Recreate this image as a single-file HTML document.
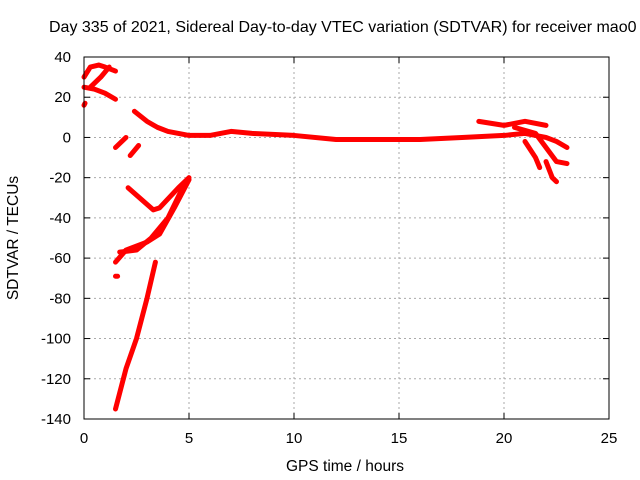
<!DOCTYPE html>
<html><head><meta charset="utf-8">
<style>
body{margin:0;background:#fff;}
svg{display:block;font-family:"Liberation Sans",sans-serif;}
</style></head>
<body>
<svg id="chart" width="640" height="480">
<text x="49" y="32" font-size="16" text-anchor="start">Day 335 of 2021, Sidereal Day-to-day VTEC variation (SDTVAR) for receiver mao0</text>
<text x="345" y="471" font-size="15.5" text-anchor="middle">GPS time / hours</text>
<text x="18" y="238" font-size="15.5" text-anchor="middle" transform="rotate(-90 18 238)">SDTVAR / TECUs</text>
<g id="grid"></g><g id="axes"></g><g id="marks"></g>
<rect x="84" y="57" width="525" height="362" fill="none" stroke="#000" stroke-width="1"/>
</svg>
<script>
const xTicks=[0,5,10,15,20,25];
const yTicks=[40,20,0,-20,-40,-60,-80,-100,-120,-140];
const s1x=[0,0.3,0.7,1.0,1.5], s1y=[30,35,36,35,33];
const s2x=[0,0.5,1,1.5], s2y=[25,24,22,19];
const s3x=[0.3,0.8,1.2], s3y=[25,30,35];
const s4x=[2.4,3,3.5,4,5,6,7,8,10,12,14,15,16,18,20,21,22,22.5,23], s4y=[13,8,5,3,1,1,3,2,1,-1,-1,-1,-1,0,1,2,0,-2,-5];
const s5x=[18.8,20,21,22], s5y=[8,6,8,6];
const s6x=[20.5,21.5,22,22.5,23], s6y=[5,2,-5,-12,-13];
const s7x=[21,21.5,21.7], s7y=[-2,-10,-15];
const s8x=[22,22.3,22.5], s8y=[-12,-20,-22];
const s9x=[1.5,2], s9y=[-5,0];
const s10x=[2.2,2.6], s10y=[-9,-4];
const s11x=[2.1,3.3,3.6,4.5,5], s11y=[-25,-36,-35,-25,-20];
const s12x=[1.5,2,3,3.6,4.3,5], s12y=[-62,-56,-52,-48,-35,-21];
const s13x=[1.7,2.5,3.2,4,4.7], s13y=[-57,-56,-50,-40,-25];
const s14x=[1.5,2,2.5,3,3.4], s14y=[-135,-115,-100,-80,-62];
const s15x=[1.5,1.6], s15y=[-69,-69];
const s16x=[0,0.05], s16y=[16,17];
const seriesX=[s1x,s2x,s3x,s4x,s5x,s6x,s7x,s8x,s9x,s10x,s11x,s12x,s13x,s14x,s15x,s16x];
const seriesY=[s1y,s2y,s3y,s4y,s5y,s6y,s7y,s8y,s9y,s10y,s11y,s12y,s13y,s14y,s15y,s16y];
const X=v=>84+(v-0)/25*525;
const Y=v=>57+(40-v)/180*362;
const NS="http://www.w3.org/2000/svg";
const grid=document.getElementById('grid'),axes=document.getElementById('axes'),marks=document.getElementById('marks');
function mk(t,a){const e=document.createElementNS(NS,t);for(const k in a)e.setAttribute(k,a[k]);return e;}
xTicks.forEach(t=>{
 if(t>0&&t<25){const g=mk('line',{x1:X(t),x2:X(t),y1:57,y2:419,stroke:'#aaa','stroke-dasharray':'2,3'});
 
 grid.appendChild(g);}
 const tk=mk('text',{x:X(t),y:443,'font-size':15,'text-anchor':'middle'});tk.textContent=t;
 
 axes.appendChild(tk);
 axes.appendChild(mk('line',{x1:X(t),x2:X(t),y1:419,y2:413,stroke:'#000'}));
 axes.appendChild(mk('line',{x1:X(t),x2:X(t),y1:57,y2:63,stroke:'#000'}));
});
yTicks.forEach(t=>{
 if(t<40&&t>-140){const g=mk('line',{x1:84,x2:609,y1:Y(t),y2:Y(t),stroke:'#aaa','stroke-dasharray':'2,3'});
 
 grid.appendChild(g);}
 const tk=mk('text',{x:71,y:Y(t)+5,'font-size':15,'text-anchor':'end'});tk.textContent=t;
 
 axes.appendChild(tk);
 axes.appendChild(mk('line',{x1:84,x2:90,y1:Y(t),y2:Y(t),stroke:'#000'}));
 axes.appendChild(mk('line',{x1:603,x2:609,y1:Y(t),y2:Y(t),stroke:'#000'}));
});
seriesX.forEach((xs,i)=>{
 const ys=seriesY[i];
 const pts=xs.map((x,j)=>X(x)+','+Y(ys[j])).join(' ');
 const pl=mk('polyline',{points:pts,fill:'none',stroke:'#f00','stroke-width':5,'stroke-linejoin':'round','stroke-linecap':'round'});
 
 
 marks.appendChild(pl);
});
</script>
</body></html>
